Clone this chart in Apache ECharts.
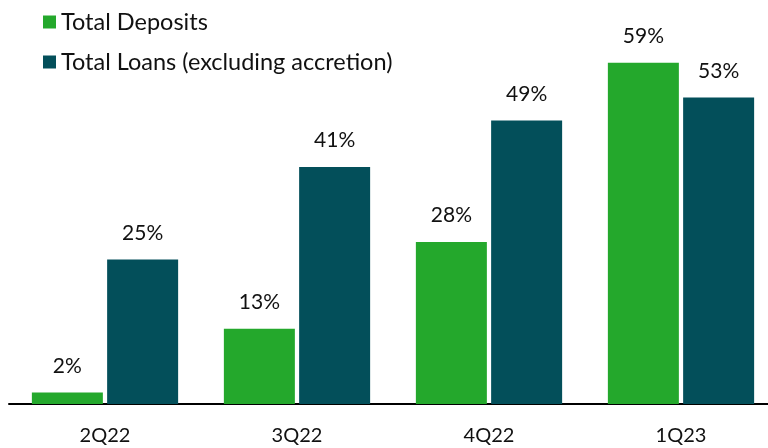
<!DOCTYPE html>
<html>
<head>
<meta charset="utf-8">
<script src="https://cdn.jsdelivr.net/npm/echarts@6/dist/echarts.min.js"></script>
<style>
  html, body { margin: 0; padding: 0; background: #fff; }
  #chart { width: 768px; height: 448px; }
</style>
</head>
<body>
<div id="chart"></div>
<script>
const quarters = ["2Q22", "3Q22", "4Q22", "1Q23"];
const depositsGrowth = [2, 13, 28, 59];
const loansGrowth = [25, 41, 49, 53];

const chart = echarts.init(document.getElementById("chart"));
const labelStyle = {
  show: true,
  position: "top",
  distance: 16,
  fontFamily: "Lato",
  fontSize: 21,
  color: "#111",
  formatter: "{c}%",
};
chart.setOption({
  animation: false,
  textStyle: { fontFamily: "Lato" },
  legend: {
    orient: "vertical",
    left: 38,
    top: 5,
    itemWidth: 13,
    itemHeight: 13,
    itemGap: 16,
    icon: "rect",
    textStyle: { fontSize: 23.5, color: "#111", fontFamily: "Lato" },
    data: ["Total Deposits", "Total Loans (excluding accretion)"],
  },
  grid: {
    left: 9,
    width: 768,
    top: 57,
    bottom: 44,
    outerBoundsMode: "none",
    containLabel: false,
  },
  xAxis: {
    type: "category",
    data: quarters,
    axisLine: { lineStyle: { color: "#000", width: 2 } },
    axisTick: { show: false },
    axisLabel: { fontSize: 20, color: "#111", margin: 22, fontFamily: "Lato" },
  },
  yAxis: {
    type: "value",
    min: 0,
    max: 60,
    show: false,
    splitLine: { show: false },
  },
  series: [
    {
      name: "Total Deposits",
      type: "bar",
      data: depositsGrowth,
      barWidth: 71,
      barGap: "6%",
      itemStyle: { color: "#24A82C" },
      label: labelStyle,
    },
    {
      name: "Total Loans (excluding accretion)",
      type: "bar",
      data: loansGrowth,
      barWidth: 71,
      itemStyle: { color: "#034F5A" },
      label: labelStyle,
    },
  ],
});
window.addEventListener("resize", () => {
  chart.resize();
});
</script>
</body>
</html>
